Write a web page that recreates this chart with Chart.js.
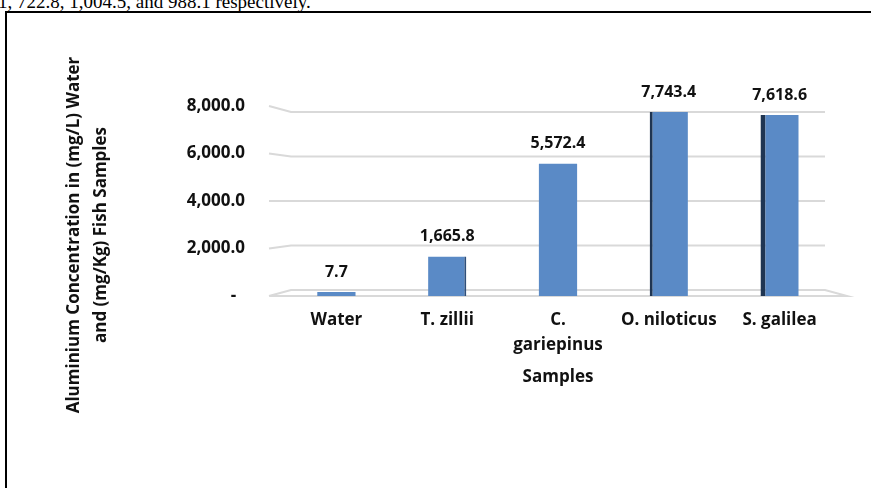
<!DOCTYPE html>
<html>
<head>
<meta charset="utf-8">
<script src="https://cdn.jsdelivr.net/npm/chart.js@4.4.1/dist/chart.umd.min.js"></script>
<style>
  html, body { margin: 0; padding: 0; background: #fff; overflow: hidden; }
  .above {
    position: absolute; left: -2px; top: -8px; white-space: nowrap;
    font: 19px "Liberation Serif", "Times New Roman", serif; line-height: 19px; color: #000;
  }
  .frame {
    position: absolute; left: 5px; top: 11px; width: 900px; height: 520px;
    border: 2px solid #000;
  }
  #chart { position: absolute; left: 0; top: 0; }
</style>
</head>
<body>
<div class="above">1, 722.8, 1,004.5, and 988.1 respectively.</div>
<div class="frame"></div>
<canvas id="chart" width="871" height="488"></canvas>
<script>
const categories = ['Water', 'T. zillii', ['C.', 'gariepinus'], 'O. niloticus', 'S. galilea'];
const concentration = [7.7, 1665.8, 5572.4, 7743.4, 7618.6];
const yTicks = [0, 2000, 4000, 6000, 8000];
const yTitle = ['Aluminium Concentration in (mg/L) Water', 'and (mg/Kg) Fish Samples'];
const xTitle = 'Samples';

const FONT = '"Open Sans"';
const fmt = v => v.toLocaleString('en-US', { minimumFractionDigits: 1, maximumFractionDigits: 1 });

// back-wall / floor lines with the little perspective kink of the original
const grid3d = {
  id: 'grid3d',
  beforeDatasetsDraw(chart) {
    const { ctx, chartArea: a, scales: { y } } = chart;
    const cy = (a.top + a.bottom) / 2;
    const k = 0.937;
    ctx.save();
    ctx.strokeStyle = '#d9d9d9';
    ctx.lineWidth = 2;
    y.ticks.forEach(t => {
      const yf = y.getPixelForValue(t.value);
      const yb = cy + (yf - cy) * k;
      ctx.beginPath();
      ctx.moveTo(a.left - 12, yf);
      ctx.lineTo(a.left + 10, yb);
      ctx.lineTo(a.right - 10, yb);
      if (t.value === 0) {
        ctx.lineTo(a.right + 12, yf);
        ctx.lineTo(a.left - 12, yf);
      }
      ctx.stroke();
    });
    ctx.restore();
  }
};

const valueLabels = {
  id: 'valueLabels',
  afterDatasetsDraw(chart) {
    const { ctx } = chart;
    const meta = chart.getDatasetMeta(0);
    ctx.save();
    ctx.font = 'bold 16px ' + FONT;
    ctx.fillStyle = '#111';
    ctx.textAlign = 'center';
    ctx.textBaseline = 'middle';
    meta.data.forEach((bar, i) => {
      ctx.fillText(fmt(concentration[i]), bar.x, bar.y - 20);
    });
    ctx.restore();
  }
};

const yAxisTitle = {
  id: 'yAxisTitle',
  afterDraw(chart) {
    const { ctx } = chart;
    ctx.save();
    ctx.translate(74, 235);
    ctx.rotate(-Math.PI / 2);
    ctx.font = 'bold 17px ' + FONT;
    ctx.fillStyle = '#111';
    ctx.textAlign = 'center';
    ctx.textBaseline = 'middle';
    yTitle.forEach((line, i) => ctx.fillText(line, 0, i * 27));
    ctx.restore();
  }
};

new Chart(document.getElementById('chart'), {
  type: 'bar',
  data: {
    labels: categories,
    datasets: [{
      data: concentration,
      backgroundColor: '#5a8ac6',
      borderColor: ['#5a8ac6', '#2f4f7a', '#5a8ac6', '#1f3552', '#1f3552'],
      borderWidth: [0, { right: 2 }, 0, { left: 3 }, { left: 5 }],
      barPercentage: 0.345,
      categoryPercentage: 1,
      minBarLength: 4,
      inflateAmount: 0
    }]
  },
  options: {
    responsive: false,
    animation: false,
    layout: { padding: { left: 0, right: 36, top: 106, bottom: 101 } },
    plugins: { legend: { display: false }, tooltip: { enabled: false } },
    scales: {
      x: {
        grid: { display: false, drawTicks: false },
        border: { display: false },
        ticks: {
          color: '#111', font: { family: FONT, size: 17, weight: 'bold', lineHeight: 1.45 },
          padding: 12, maxRotation: 0, autoSkip: false
        },
        title: {
          display: true, text: xTitle, color: '#111',
          font: { family: FONT, size: 17, weight: 'bold', lineHeight: 1.2 },
          padding: { top: 0, bottom: 0 }
        },
        afterFit(scale) { scale.height = 91; }
      },
      y: {
        min: 0, max: 8000,
        grid: { display: false, drawTicks: false },
        border: { display: false },
        afterBuildTicks(scale) { scale.ticks = yTicks.map(v => ({ value: v })); },
        ticks: {
          color: '#111', font: { family: FONT, size: 17, weight: 'bold' },
          padding: 36,
          callback: v => (v === 0 ? '-  ' : fmt(v))
        },
        afterFit(scale) { scale.width = 281; }
      }
    }
  },
  plugins: [grid3d, valueLabels, yAxisTitle]
});
</script>
</body>
</html>
